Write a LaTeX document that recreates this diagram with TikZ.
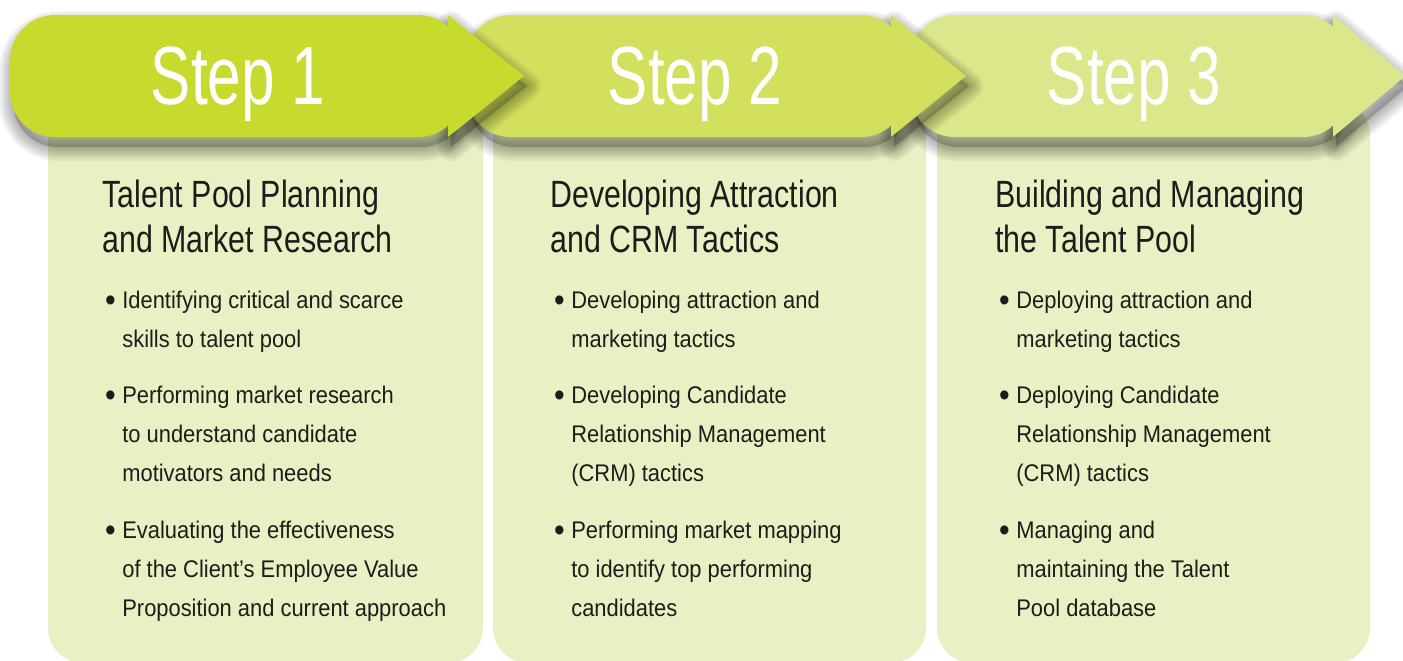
\documentclass[tikz,border=0pt]{standalone}
\usepackage{fontspec}
\setmainfont{Liberation Sans}
\newfontfamily\stepfont{Liberation Sans}[FakeStretch=0.73]
\newfontfamily\headfont{Liberation Sans}[FakeStretch=0.80]
\newfontfamily\itemfont{Liberation Sans}[FakeStretch=0.91]
\usepackage{tikz}

\definecolor{stepA}{RGB}{200,218,46}
\definecolor{stepB}{RGB}{211,224,94}
\definecolor{stepC}{RGB}{220,230,138}
\definecolor{panelfill}{RGB}{234,240,196}
\definecolor{inktext}{RGB}{28,28,28}

% header arrow: left end, back of the tip, point of the tip, colour
\newcommand{\steparrow}[4]{%
  \fill[black,opacity=0.2,rounded corners=0.9cm,xshift=0.06cm,yshift=-0.2cm] (#1,15) rectangle (#2+15,137);
  \fill[black,opacity=0.2,xshift=0.06cm,yshift=-0.2cm] (#2,15) -- (#3,76) -- (#2,137) -- cycle;
  \foreach \w in {2,4,...,16} {
    \draw[black,opacity=0.04,line width=\w pt,rounded corners=0.9cm,xshift=0.06cm,yshift=-0.2cm] (#1,15) rectangle (#2+15,137);
    \draw[black,opacity=0.04,line width=\w pt,line join=round,xshift=0.06cm,yshift=-0.2cm] (#2,15) -- (#3,76) -- (#2,137) -- cycle;
  }
  \fill[#4,rounded corners=0.9cm] (#1,15) rectangle (#2+15,137);
  \fill[#4] (#2,15) -- (#3,76) -- (#2,137) -- cycle;
}
\newcommand{\dotmark}{\llap{\raisebox{-2pt}{\fontsize{19pt}{19pt}\selectfont •}\hspace{0.13cm}}}

\begin{document}
\begin{tikzpicture}[x=0.02cm,y=-0.02cm,inner sep=0pt,
  steplabel/.style={anchor=base,text=white,font=\stepfont\fontsize{47pt}{50pt}\selectfont},
  paneltitle/.style={anchor=base west,align=left,text=inktext,font=\headfont\fontsize{21.6pt}{25.5pt}\selectfont},
  bulletitem/.style={anchor=base west,align=left,text=inktext,font=\itemfont\fontsize{13.7pt}{22.1pt}\selectfont}]
\useasboundingbox (0,0) rectangle (1403,660);
% Panels
\fill[panelfill,rounded corners=0.7cm] (48,100) rectangle (483,663);
\fill[panelfill,rounded corners=0.7cm] (493,100) rectangle (926,663);
\fill[panelfill,rounded corners=0.7cm] (937,100) rectangle (1370,663);
% Step arrows
\steparrow{910}{1333}{1405}{stepC}
\steparrow{466}{891}{966}{stepB}
\steparrow{10}{448}{524}{stepA}
% Step labels
\node [steplabel] (Step1) at (238,104) {Step 1};
\node [steplabel] (Step2) at (695,104) {Step 2};
\node [steplabel] (Step3) at (1134,104) {Step 3};
% Panel titles (placed at the baseline of their last line)
\node [paneltitle] (Title1) at (102,252) {Talent Pool Planning\\and Market Research};
\node [paneltitle] (Title2) at (550,252) {Developing Attraction\\and CRM Tactics};
\node [paneltitle] (Title3) at (995,252) {Building and Managing\\the Talent Pool};
% Panel 1 items
\node [bulletitem] (ItemA1) at (122,347) {\dotmark Identifying critical and scarce\\skills to talent pool};
\node [bulletitem] (ItemA2) at (122,481) {\dotmark Performing market research\\to understand candidate\\motivators and needs};
\node [bulletitem] (ItemA3) at (122,616) {\dotmark Evaluating the effectiveness\\of the Client’s Employee Value\\Proposition and current approach};
% Panel 2 items
\node [bulletitem] (ItemB1) at (571,347) {\dotmark Developing attraction and\\marketing tactics};
\node [bulletitem] (ItemB2) at (571,481) {\dotmark Developing Candidate\\Relationship Management\\(CRM) tactics};
\node [bulletitem] (ItemB3) at (571,616) {\dotmark Performing market mapping\\to identify top performing\\candidates};
% Panel 3 items
\node [bulletitem] (ItemC1) at (1016,347) {\dotmark Deploying attraction and\\marketing tactics};
\node [bulletitem] (ItemC2) at (1016,481) {\dotmark Deploying Candidate\\Relationship Management\\(CRM) tactics};
\node [bulletitem] (ItemC3) at (1016,616) {\dotmark Managing and\\maintaining the Talent\\Pool database};
\end{tikzpicture}
\end{document}
